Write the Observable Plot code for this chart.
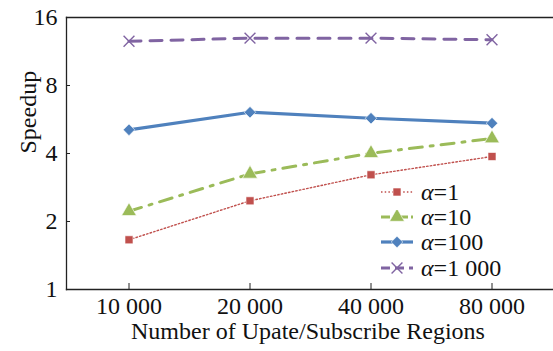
<!DOCTYPE html>
<html>
<head>
<meta charset="utf-8">
<script src="https://cdn.jsdelivr.net/npm/d3@7"></script>
<script src="https://cdn.jsdelivr.net/npm/@observablehq/plot@0.6"></script>
<style>
  html, body { margin: 0; padding: 0; background: #fff; }
  #wrap { position: relative; width: 553px; height: 351px; font-family: "Liberation Serif", "Times New Roman", serif; }
  #legend { position: absolute; left: 380px; top: 179px; }
  .row { display: flex; align-items: center; height: 25.3px; }
  .row svg { display: block; }
  .lab { font-size: 24px; margin-left: 5px; line-height: 24px; color: #111; }
  .lab i { font-style: italic; }
</style>
</head>
<body>
<div id="wrap"></div>
<script>
const regions = ["10 000", "20 000", "40 000", "80 000"];
const seriesNames = ["α=1", "α=10", "α=100", "α=1 000"];
const alpha1 = [1.66, 2.47, 3.22, 3.88];
const alpha10 = [2.22, 3.25, 4.01, 4.66];
const alpha100 = [5.09, 6.09, 5.73, 5.45];
const alpha1000 = [12.56, 12.96, 12.96, 12.75];
const yTicks = [1, 2, 4, 8, 16];

const styles = {
  "α=1":     {color: "#c0504d", width: 1.4, dash: "1.5,2.2", symbol: "square", r: 4.5, fill: true},
  "α=10":    {color: "#9bbb59", width: 3, dash: "13,8,3,8", symbol: "triangle", r: 5.5, fill: true},
  "α=100":   {color: "#4f81bd", width: 3.2, dash: null, symbol: "diamond2", r: 5.2, fill: true},
  "α=1 000": {color: "#8064a2", width: 3, dash: "12,9", symbol: "times", r: 5, fill: false}
};

const valuesBySeries = [alpha1, alpha10, alpha100, alpha1000];
const data = [];
seriesNames.forEach((s, i) => regions.forEach((r, j) => data.push({series: s, region: r, value: valuesBySeries[i][j]})));

const marks = [];
for (const s of seriesNames) {
  const st = styles[s];
  const d = data.filter(v => v.series === s);
  marks.push(Plot.line(d, {x: "region", y: "value", stroke: st.color, strokeWidth: st.width, strokeDasharray: st.dash}));
  marks.push(Plot.dot(d, st.fill
    ? {x: "region", y: "value", symbol: () => st.symbol, r: st.r, fill: st.color, stroke: "white", strokeWidth: 0.6}
    : {x: "region", y: "value", symbol: () => st.symbol, r: st.r, stroke: st.color, strokeWidth: 1.4}));
}

const chart = Plot.plot({
  width: 553,
  height: 351,
  marginLeft: 66,
  marginTop: 17,
  marginBottom: 62,
  marginRight: 0,
  style: {fontFamily: "'Liberation Serif', 'Times New Roman', serif", fontSize: "24px", color: "#111", background: "white"},
  x: {type: "band", domain: regions, padding: 0, label: null},
  y: {type: "log", base: 2, domain: [1, 16], label: null},
  symbol: {type: "identity"},
  marks: [
    Plot.axisX({tickSize: -6, tickPadding: 13, fontSize: 24, label: null, stroke: "#222"}),
    Plot.axisY({ticks: yTicks, tickFormat: d => String(d), tickSize: -4, tickPadding: 13, fontSize: 24, label: null, stroke: "#222"}),
    Plot.text(["Number of Upate/Subscribe Regions"], {frameAnchor: "bottom", dy: 42, text: d => d, fontSize: 24, fill: "#111", lineAnchor: "middle", dx: -2}),
    Plot.text(["Speedup"], {frameAnchor: "left", dx: -38, text: d => d, fontSize: 24, fill: "#111", rotate: -90, dy: 0}),
    Plot.frame({anchor: "left", stroke: "#222", strokeWidth: 1.3}),
    Plot.frame({anchor: "bottom", stroke: "#222", strokeWidth: 1.3}),
    Plot.frame({anchor: "top", stroke: "#222", strokeWidth: 1.3}),
    ...marks
  ]
});

const wrap = document.getElementById("wrap");
wrap.appendChild(chart);

// legend
const legend = document.createElement("div");
legend.id = "legend";
for (const s of seriesNames) {
  const st = styles[s];
  const row = document.createElement("div");
  row.className = "row";
  const svg = d3.create("svg").attr("width", 36).attr("height", 14);
  svg.append("line").attr("x1", 1).attr("x2", 33).attr("y1", 7).attr("y2", 7)
    .attr("stroke", st.color).attr("stroke-width", st.width)
    .attr("stroke-dasharray", st.dash ? (s === "α=1" ? st.dash : (s === "α=10" ? "9,3,3,3" : "9,5")) : null);
  const symMap = {square: d3.symbolSquare, triangle: d3.symbolTriangle, diamond2: d3.symbolDiamond2, times: d3.symbolTimes};
  const path = d3.symbol(symMap[st.symbol], Math.PI * st.r * st.r)();
  const p = svg.append("path").attr("d", path).attr("transform", "translate(17,7)");
  if (st.fill) p.attr("fill", st.color).attr("stroke", "white").attr("stroke-width", 0.6);
  else p.attr("fill", "none").attr("stroke", st.color).attr("stroke-width", 1.4);
  row.appendChild(svg.node());
  const lab = document.createElement("span");
  lab.className = "lab";
  lab.innerHTML = "<i>α</i>" + s.slice(1);
  row.appendChild(lab);
  legend.appendChild(row);
}
wrap.appendChild(legend);
</script>
</body>
</html>
